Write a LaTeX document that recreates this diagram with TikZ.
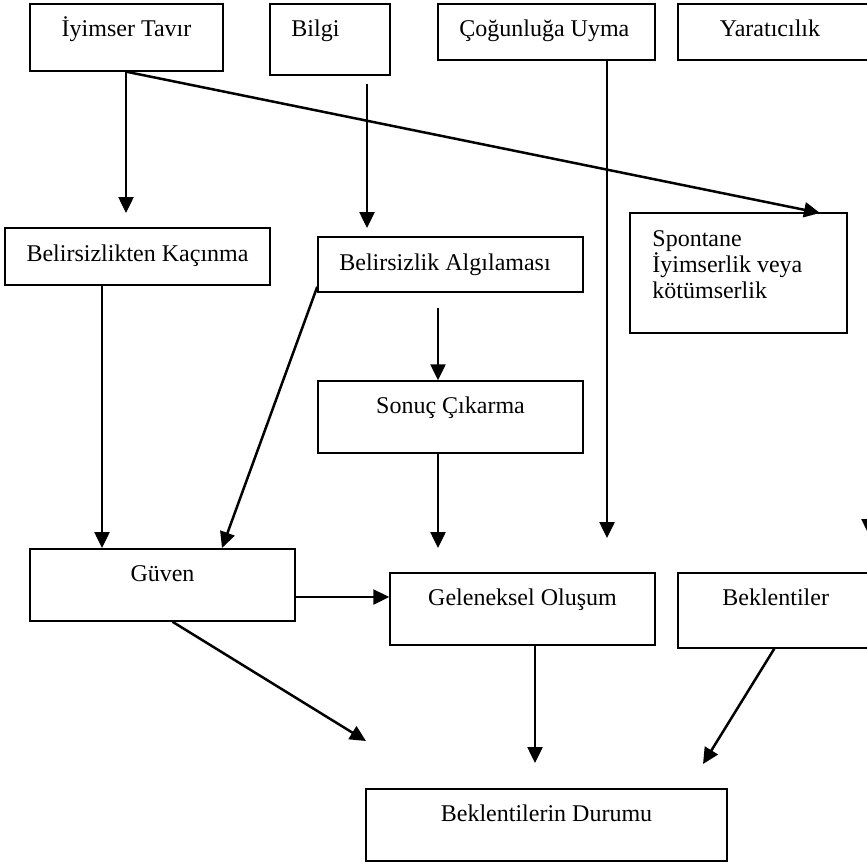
\documentclass[tikz,border=0pt]{standalone}
\usepackage{fontspec}
\setmainfont{Liberation Serif}
\usetikzlibrary{arrows.meta,fit,calc}
\begin{document}
\begin{tikzpicture}[x=.5pt,y=-.5pt,
  kutu/.style={draw,line width=.75pt,inner sep=0pt},
  yazi/.style={inner sep=0pt,font=\fontsize{12}{13}\selectfont},
  ok/.style={line width=1.25pt,-{Triangle[length=8pt,width=7.5pt]}}]
\useasboundingbox (0,0) rectangle (867,863);
\clip (0,0) rectangle (867,863);
\foreach \n/\xa/\ya/\xb/\yb in {tavir/30/4/223/71, bilgi/270/4/390/75,
  cogun/438/4/655/60, yarat/678/4/880/60, kacin/5/228/270/285,
  algi/318/237/583/292, spon/630/213/847/333, sonuc/318/381/583/453,
  guven/30/549/295/621, gelen/390/573/655/645, bekl/678/573/880/648,
  durum/366/789/727/861}
  {\node[kutu,fit={(\xa,\ya)(\xb,\yb)}] (\n) {};}
\node[yazi,anchor=base] (tavir-t) at (126.5,36) {İyimser Tavır};
\node[yazi,anchor=base west] (bilgi-t) at (291,36) {Bilgi};
\node[yazi,anchor=base west] (cogun-t) at (459,36) {Çoğunluğa Uyma};
\node[yazi,anchor=base] (yarat-t) at (770,36) {Yaratıcılık};
\node[yazi,anchor=base] (kacin-t) at (137.5,261) {Belirsizlikten Kaçınma};
\node[yazi,anchor=base west] (algi-t) at (339,270) {Belirsizlik Algılaması};
\node[yazi,anchor=base west,align=left] (spon-t) at (652,298) {Spontane\\İyimserlik veya\\kötümserlik};
\node[yazi,anchor=base] (sonuc-t) at (450.5,413) {Sonuç Çıkarma};
\node[yazi,anchor=base] (guven-t) at (162.5,581) {Güven};
\node[yazi,anchor=base] (gelen-t) at (522.5,605) {Geleneksel Oluşum};
\node[yazi,anchor=base west] (bekl-t) at (722,605) {Beklentiler};
\node[yazi,anchor=base] (durum-t) at (546.5,821) {Beklentilerin Durumu};
\coordinate (t1) at (126,213); \coordinate (t2) at (820,213);
\coordinate (b1) at (367,84); \coordinate (b2) at (367,228);
\coordinate (c1) at (607,538); \coordinate (k1) at (102,548);
\coordinate (a1) at (222,548); \coordinate (s0) at (438,308);
\coordinate (s2) at (438,548); \coordinate (h1) at (340,597);
\coordinate (g1) at (366,741); \coordinate (e1) at (535,763);
\coordinate (d1) at (703,764); \coordinate (y1) at (869,535);
\draw[ok] (tavir.south -| t1) -- (t1);
\draw[ok] (tavir.south) -- (t2);
\draw[ok] (b1) -- (b2);
\draw[ok] (cogun.south -| c1) -- (c1);
\draw[ok] (kacin.south -| k1) -- (k1);
\draw[ok] ($(algi.south west)+(0,-6)$) -- (a1);
\draw[ok] (s0) -- (sonuc.north -| s0);
\draw[ok] (sonuc.south -| s0) -- (s2);
\draw[ok] (guven.east |- h1) -- (gelen.west |- h1);
\draw[ok] ($(guven.south)+(10,0)$) -- (g1);
\draw[ok] (gelen.south -| e1) -- (e1);
\draw[ok] ($(bekl.south west)+(97,0)$) -- (d1);
\draw[ok] (yarat.south -| y1) -- (y1);
\end{tikzpicture}
\end{document}
